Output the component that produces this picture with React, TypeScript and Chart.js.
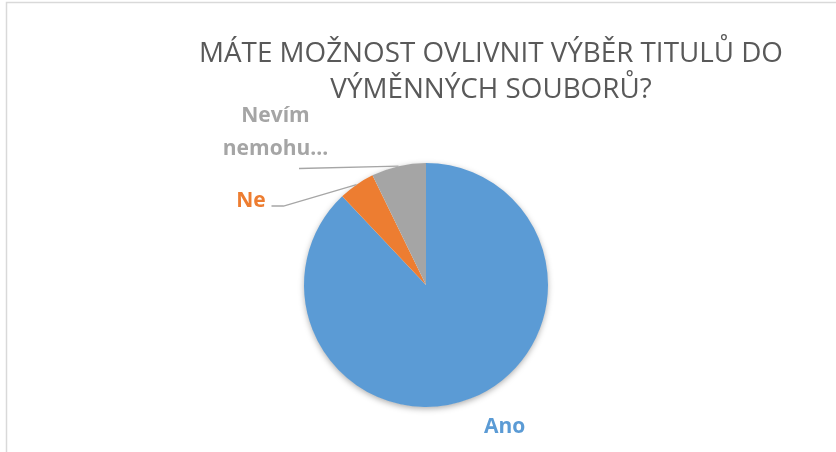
import React, { useEffect, useRef } from "react";
import { Chart, registerables } from "chart.js";

Chart.register(...registerables);

const categories = ["Ano", "Ne", "Nevím nemohu..."];
const values = [73, 4, 6];
const colors = ["#5B9BD5", "#ED7D31", "#A5A5A5"];
const titleLines = ["MÁTE MOŽNOST OVLIVNIT VÝBĚR TITULŮ DO", "VÝMĚNNÝCH SOUBORŮ?"];

const FONT = '"Open Sans", "DejaVu Sans", sans-serif';

const decorPlugin = {
  id: "decor",
  beforeDatasetsDraw(chart: any) {
    const meta = chart.getDatasetMeta(0);
    const a = meta.data[0];
    if (!a) return;
    const ctx = chart.ctx;
    ctx.save();
    ctx.shadowColor = "rgba(0,0,0,0.35)";
    ctx.shadowBlur = 6;
    ctx.shadowOffsetY = 2;
    ctx.fillStyle = "#ffffff";
    ctx.beginPath();
    ctx.arc(a.x, a.y, a.outerRadius - 0.5, 0, Math.PI * 2);
    ctx.fill();
    ctx.restore();
  },
  afterDraw(chart: any) {
    const ctx = chart.ctx;
    const meta = chart.getDatasetMeta(0);
    const arcs = meta.data;
    ctx.save();
    // frame
    ctx.strokeStyle = "#d9d9d9";
    ctx.lineWidth = 1.5;
    ctx.strokeRect(6.5, 2.5, 900, 500);

    // title
    ctx.fillStyle = "#595959";
    ctx.font = `27.8px ${FONT}`;
    ctx.textAlign = "center";
    ctx.textBaseline = "alphabetic";
    ctx.fillText(titleLines[0], 491, 62);
    ctx.fillText(titleLines[1], 491, 98);

    const edge = (i: number) => {
      const el = arcs[i];
      const mid = (el.startAngle + el.endAngle) / 2;
      return { x: el.x + Math.cos(mid) * el.outerRadius, y: el.y + Math.sin(mid) * el.outerRadius };
    };

    // leader lines
    ctx.strokeStyle = "#A6A6A6";
    ctx.lineWidth = 1.3;
    const pNe = edge(1);
    ctx.beginPath();
    ctx.moveTo(271.5, 206);
    ctx.lineTo(283.5, 206);
    ctx.lineTo(pNe.x, pNe.y);
    ctx.stroke();
    const pNv = edge(2);
    ctx.beginPath();
    ctx.moveTo(299, 168.5);
    ctx.lineTo(pNv.x, pNv.y);
    ctx.stroke();

    // labels
    ctx.font = `bold 21px ${FONT}`;
    ctx.textAlign = "center";
    ctx.fillStyle = colors[2];
    const parts = categories[2].split(" ");
    ctx.fillText(parts[0], 275.5, 122);
    ctx.fillText(parts[1], 275.5, 155);
    ctx.fillStyle = colors[1];
    ctx.fillText(categories[1], 251, 207);
    ctx.fillStyle = colors[0];
    ctx.fillText(categories[0], 504.7, 433);
    ctx.restore();
  },
};

export default function App() {
  const ref = useRef<HTMLCanvasElement | null>(null);
  useEffect(() => {
    if (!ref.current) return;
    const chart = new Chart(ref.current, {
      type: "pie",
      data: {
        labels: categories,
        datasets: [
          {
            data: values,
            backgroundColor: colors,
            borderWidth: 0,
            hoverOffset: 0,
            offset: 0,
          },
        ],
      },
      options: {
        responsive: false,
        animation: false,
        events: [],
        layout: { padding: { left: 304, right: 288, top: 163, bottom: 45 } },
        plugins: {
          legend: { display: false },
          tooltip: { enabled: false },
          title: { display: false },
        },
      },
      plugins: [decorPlugin],
    });
    return () => chart.destroy();
  }, []);
  return (
    <div style={{ position: "absolute", left: 0, top: 0, width: 836, height: 452, background: "#fff" }}>
      <canvas ref={ref} width={836} height={452} style={{ display: "block" }} />
    </div>
  );
}
